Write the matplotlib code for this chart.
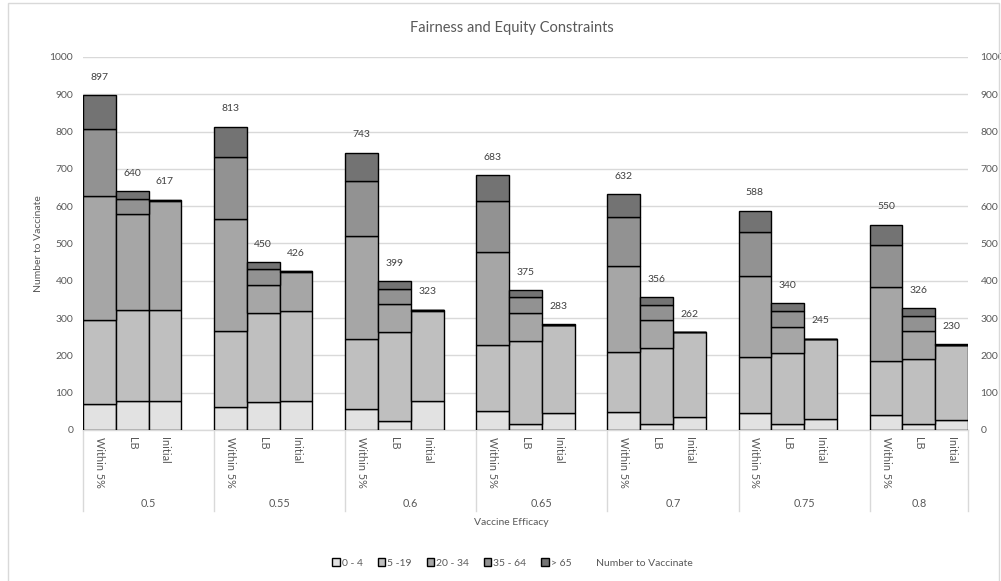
import numpy as np
import matplotlib.pyplot as plt
import matplotlib.patches as mpatches
import matplotlib.transforms as mtransforms

plt.rcParams['font.family'] = ['Lato', 'DejaVu Sans']

# Vaccine efficacy groups and the three scenarios inside each
efficacy = ['0.5', '0.55', '0.6', '0.65', '0.7', '0.75', '0.8']
scenarios = ['Within 5%', 'LB', 'Initial']
age_groups = ['0 - 4', '5 -19', '20 - 34', '35 - 64', '> 65']

# Vaccinations per age group, ordered Within 5%, LB, Initial for each efficacy
age_0_4 = [70, 78, 78, 62, 74, 78, 56, 25, 78, 52, 16, 45, 48, 16, 35, 45, 16, 30, 41, 16, 28]
age_5_19 = [225, 243, 243, 204, 240, 242, 189, 238, 242, 176, 222, 236, 161, 204, 227, 150, 190, 213, 143, 175, 200]
age_20_34 = [333, 257, 294, 301, 74, 104, 275, 75, 1, 249, 75, 0, 232, 75, 0, 218, 71, 0, 200, 75, 0]
age_35_64 = [179, 42, 1, 165, 43, 1, 147, 40, 1, 136, 44, 1, 129, 39, 0, 118, 43, 1, 111, 40, 1]
age_65 = [90, 20, 1, 81, 19, 1, 76, 21, 1, 70, 18, 1, 62, 22, 0, 57, 20, 1, 55, 20, 1]
number_to_vaccinate = [897, 640, 617, 813, 450, 426, 743, 399, 323, 683, 375, 283,
                       632, 356, 262, 588, 340, 245, 550, 326, 230]

colors = ['#e2e2e2', '#bfbfbf', '#a6a6a6', '#929292', '#737373']
text_grey = '#595959'
grid_grey = '#d9d9d9'

fig = plt.figure(figsize=(10.01, 5.81), dpi=100)
ax = fig.add_axes([0.0829, 0.2599, 0.8841, 0.6420])

# each group takes 4 slots (3 bars + one empty), last group has no trailing gap
x = np.array([g * 4 + b for g in range(len(efficacy)) for b in range(len(scenarios))])

bottom = np.zeros(len(x))
for vals, col, name in zip([age_0_4, age_5_19, age_20_34, age_35_64, age_65], colors, age_groups):
    ax.bar(x, vals, width=1.0, bottom=bottom, color=col, edgecolor='black',
           linewidth=1.0, label=name, zorder=3)
    bottom += np.array(vals)

# totals above each bar
for xi, tot in zip(x, number_to_vaccinate):
    ax.annotate(str(tot), (xi, tot), xytext=(0, 13), textcoords='offset points',
                ha='center', va='center', fontsize=7.5, color='#404040')

ax.set_xlim(-0.5, 26.5)
ax.set_ylim(0, 1000)
ax.set_yticks(np.arange(0, 1001, 100))
ax.yaxis.grid(True, color=grid_grey, linewidth=1.0, zorder=0)
ax.set_axisbelow(True)
for s in ['top', 'right', 'left']:
    ax.spines[s].set_visible(False)
ax.spines['bottom'].set_color(grid_grey)
ax.spines['bottom'].set_linewidth(1.0)
ax.tick_params(axis='y', length=0, labelsize=7.5, labelcolor=text_grey, pad=7)
ax.set_xticks([])
ax.set_ylabel('Number to Vaccinate', fontsize=7.5, color=text_grey, labelpad=5)

# secondary axis on the right with the same scale
ax2 = ax.twinx()
ax2.set_ylim(0, 1000)
ax2.set_yticks(np.arange(0, 1001, 100))
for s in ax2.spines.values():
    s.set_visible(False)
ax2.tick_params(axis='y', length=0, labelsize=7.5, labelcolor=text_grey, pad=9)

# two-level category axis
trans = mtransforms.blended_transform_factory(ax.transData, ax.transAxes)
for xi, lab in zip(x, scenarios * len(efficacy)):
    ax.text(xi, -0.018, lab, transform=trans, rotation=-90, ha='center', va='top',
            fontsize=7.8, color=text_grey)
for g, lab in enumerate(efficacy):
    left = g * 4 - 0.5
    right = min(left + 4, 26.5)
    ax.text((left + right) / 2, -0.198, lab, transform=trans, ha='center', va='center',
            fontsize=7.8, color=text_grey)
for b in [-0.5, 3.5, 7.5, 11.5, 15.5, 19.5, 23.5, 26.5]:
    ax.plot([b, b], [0, -0.217], transform=trans, color=grid_grey, linewidth=1.0,
            clip_on=False)

fig.text(0.511, 0.1015, 'Vaccine Efficacy', ha='center', va='center', fontsize=7.5,
         color=text_grey)
fig.text(0.511, 0.952, 'Fairness and Equity Constraints', ha='center', va='center',
         fontsize=10.5, color=text_grey)

handles, labels = ax.get_legend_handles_labels()
handles.append(mpatches.Patch(facecolor='none', edgecolor='none'))
labels.append('Number to Vaccinate')
fig.legend(handles, labels, loc='center', bbox_to_anchor=(0.512, 0.031), ncol=6,
           frameon=False, fontsize=7.5, labelcolor=text_grey, handlelength=0.7,
           handleheight=0.7, handletextpad=0.2, columnspacing=1.45)

# chart border
fig.patches.append(mpatches.Rectangle((0.008, -0.01), 0.99, 1.005, transform=fig.transFigure,
                                      fill=False, edgecolor=grid_grey, linewidth=1.0))

fig.savefig('out.png', dpi=100, facecolor='white')
